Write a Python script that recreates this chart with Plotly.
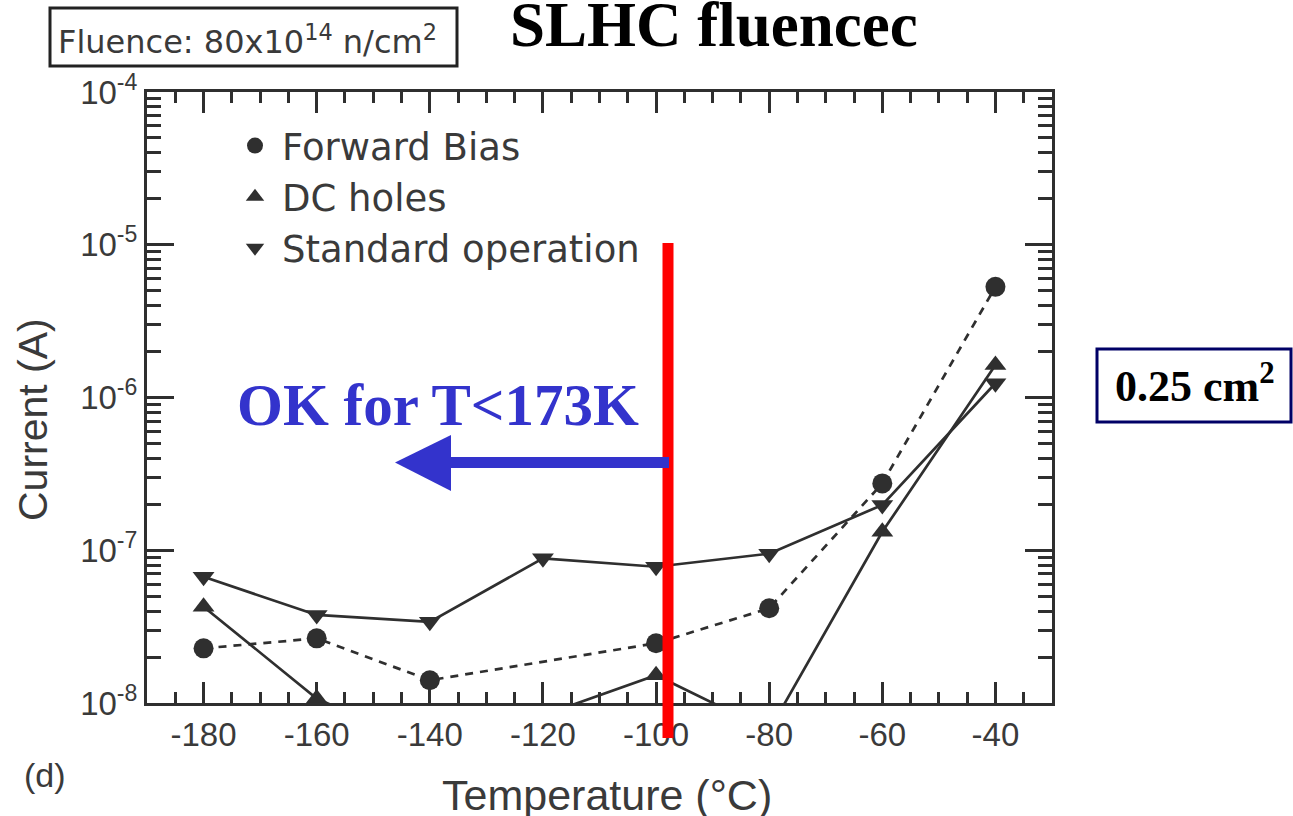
import plotly.graph_objects as go

# ---------------- data ----------------
temps = [-180, -160, -140, -120, -100, -80, -60, -40]
fb_temps = [-180, -160, -140, -100, -80, -60, -40]
forward_bias = [2.28e-8, 2.65e-8, 1.41e-8, 2.46e-8, 4.17e-8, 2.74e-7, 5.3e-6]
dc_holes = [4.27e-8, 1.07e-8, 5.0e-9, 8.3e-9, 1.52e-8, 6.6e-9, 1.32e-7, 1.63e-6]
standard_op = [6.7e-8, 3.77e-8, 3.4e-8, 8.85e-8, 7.8e-8, 9.5e-8, 1.98e-7, 1.24e-6]

x_tick_vals = [-180, -160, -140, -120, -100, -80, -60, -40]
x_tick_text = ["-180", "-160", "-140", "-120", "-100", "-80", "-60", "-40"]
y_tick_vals = [1e-8, 1e-7, 1e-6, 1e-5, 1e-4]
y_tick_text = ["10<sup>-8</sup>", "10<sup>-7</sup>", "10<sup>-6</sup>",
               "10<sup>-5</sup>", "10<sup>-4</sup>"]

series_names = ["Forward Bias", "DC holes", "Standard operation"]
series_symbols = ["circle", "triangle-up", "triangle-down"]

# ---------------- geometry helpers ----------------
W, H = 1293, 816
L, R, T, B = 147, 241, 92, 113
PW, PH = W - L - R, H - T - B


def px(xp):
    return (xp - L) / PW


def py(yp):
    return (H - B - yp) / PH


INK = "#2f2f2f"
TXT = "#3a3a3a"
SANS = "Liberation Sans, Arial"
SERIF = "Liberation Serif, Times New Roman"

fig = go.Figure()

fig.add_trace(go.Scatter(
    x=fb_temps, y=forward_bias, mode="lines+markers", showlegend=False,
    line=dict(color=INK, width=2.7, dash="8px,7px"),
    marker=dict(symbol="circle", size=20, color=INK)))
fig.add_trace(go.Scatter(
    x=temps, y=dc_holes, mode="lines+markers", showlegend=False,
    line=dict(color=INK, width=2.7),
    marker=dict(symbol="triangle-up", size=19, color=INK)))
fig.add_trace(go.Scatter(
    x=temps, y=standard_op, mode="lines+markers", showlegend=False,
    line=dict(color=INK, width=2.7),
    marker=dict(symbol="triangle-down", size=19, color=INK)))

# legend entries (markers only, as in the reference)
for name, sym in zip(series_names, series_symbols):
    fig.add_trace(go.Scatter(
        x=[None], y=[None], mode="markers", name=name,
        marker=dict(symbol=sym, size=18, color=INK)))

axis_common = dict(
    showline=True, linewidth=3, linecolor=INK, mirror="ticks",
    ticks="inside", tickwidth=3, tickcolor=INK,
    showgrid=False, zeroline=False,
)

fig.update_xaxes(
    **axis_common,
    range=[-190, -30], tickmode="array",
    tickvals=x_tick_vals, ticktext=x_tick_text, ticklen=21,
    tickfont=dict(family=SANS, size=33, color=TXT),
    minor=dict(dtick=5, tick0=-180, ticks="inside", ticklen=11,
               tickwidth=3, tickcolor=INK),
)
fig.update_yaxes(
    **axis_common,
    type="log", range=[-8, -4], tickmode="array",
    tickvals=y_tick_vals, ticktext=y_tick_text, ticklen=27,
    tickfont=dict(family=SANS, size=33, color=TXT),
    minor=dict(dtick="D1", ticks="inside", ticklen=14,
               tickwidth=3, tickcolor=INK),
)

shapes = [
    # red vertical marker
    dict(type="line", xref="paper", yref="paper",
         x0=px(668), x1=px(668), y0=py(738), y1=py(243),
         line=dict(color="#ff0000", width=11)),
    # blue arrow shaft
    dict(type="line", xref="paper", yref="paper",
         x0=px(669), x1=px(448), y0=py(462.5), y1=py(462.5),
         line=dict(color="#3333cc", width=11)),
    # blue arrow head
    dict(type="path", xref="paper", yref="paper",
         path=f"M{px(395)},{py(462.5)} L{px(451)},{py(435)} L{px(451)},{py(491)} Z",
         fillcolor="#3333cc", line=dict(color="#3333cc", width=0)),
    # fluence box
    dict(type="rect", xref="paper", yref="paper",
         x0=px(50), x1=px(457), y0=py(66), y1=py(8),
         line=dict(color="#222222", width=3)),
    # area box
    dict(type="rect", xref="paper", yref="paper",
         x0=px(1097), x1=px(1291), y0=py(422), y1=py(349),
         line=dict(color="#000066", width=3)),
]

annotations = [
    dict(text="Fluence: 80x10<sup>14</sup> n/cm<sup>2</sup>",
         x=px(56), y=py(40), xanchor="left", yanchor="middle",
         font=dict(family="DejaVu Sans", size=32, color=TXT)),
    dict(text="SLHC fluencec", x=px(714), y=py(25),
         xanchor="center", yanchor="middle",
         font=dict(family=SERIF, size=63, color="#000000", weight="bold")),
    dict(text="OK for T&lt;173K", x=px(438), y=py(405),
         xanchor="center", yanchor="middle",
         font=dict(family=SERIF, size=59, color="#3333cc", weight="bold")),
    dict(text="0.25 cm<sup>2</sup>", x=px(1195), y=py(383),
         xanchor="center", yanchor="middle",
         font=dict(family=SERIF, size=44, color="#000000", weight="bold")),
    dict(text="(d)", x=px(45), y=py(775), xanchor="center", yanchor="middle",
         font=dict(family=SANS, size=34, color=TXT)),
    dict(text="Temperature (°C)", x=px(607), y=py(795),
         xanchor="center", yanchor="middle",
         font=dict(family=SANS, size=43, color=TXT)),
    dict(text="Current (A)", x=px(33), y=py(420), textangle=-90,
         xanchor="center", yanchor="middle",
         font=dict(family=SANS, size=41, color=TXT)),
]
for a in annotations:
    a.update(xref="paper", yref="paper", showarrow=False)

fig.update_layout(
    width=W, height=H,
    margin=dict(l=L, r=R, t=T, b=B, pad=0),
    paper_bgcolor="white", plot_bgcolor="white",
    shapes=shapes, annotations=annotations,
    legend=dict(x=px(228), y=py(115), xanchor="left", yanchor="top",
                bgcolor="rgba(0,0,0,0)", itemwidth=44,
                font=dict(family="DejaVu Sans", size=37, color=TXT)),
)

fig.write_html("out.html")
